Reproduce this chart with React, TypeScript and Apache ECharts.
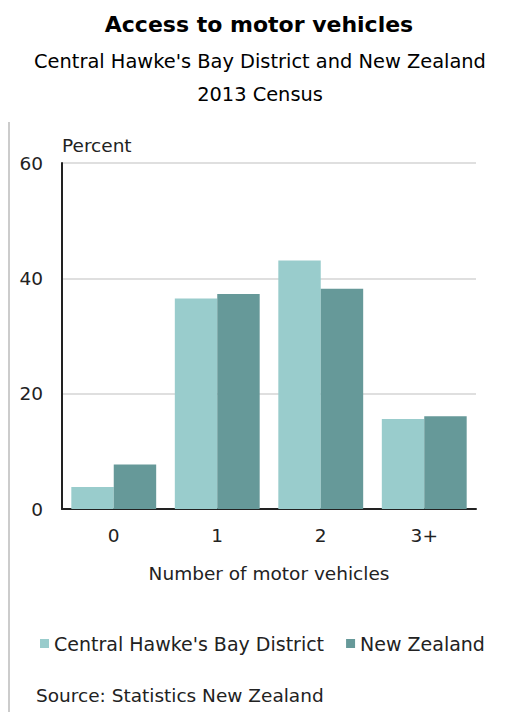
import React, { useEffect, useRef } from "react";
import * as echarts from "echarts";

const categories = ["0", "1", "2", "3+"];
const chbValues = [3.8, 36.5, 43.1, 15.6];
const nzValues = [7.7, 37.3, 38.2, 16.1];
const seriesNames = ["Central Hawke's Bay District", "New Zealand"];
const yTicks = { min: 0, max: 60, interval: 20 };

const FONT = "DejaVu Sans";

export default function App() {
  const ref = useRef<HTMLDivElement>(null);
  useEffect(() => {
    if (!ref.current) return;
    const chart = echarts.init(ref.current, undefined, { renderer: "svg" });
    chart.setOption({
      animation: false,
      backgroundColor: "#ffffff",
      textStyle: { fontFamily: FONT },
      grid: { left: 62, right: 43, top: 163, bottom: 203 },
      legend: {
        left: 40,
        top: 634,
        padding: 0,
        itemWidth: 9,
        itemHeight: 9,
        itemGap: 22,
        icon: "rect",
        textStyle: { fontFamily: FONT, fontSize: 19, color: "#222" },
        data: seriesNames,
      },
      xAxis: {
        type: "category",
        data: categories,
        axisLine: { show: true, lineStyle: { color: "#222", width: 2 } },
        axisTick: { show: false },
        axisLabel: { margin: 17, fontFamily: FONT, fontSize: 18.5, color: "#222" },
        name: "Number of motor vehicles",
        nameLocation: "middle",
        nameGap: 55,
        nameTextStyle: { fontFamily: FONT, fontSize: 18.5, color: "#222" },
      },
      yAxis: {
        type: "value",
        min: yTicks.min,
        max: yTicks.max,
        interval: yTicks.interval,
        axisLine: { show: true, lineStyle: { color: "#222", width: 2 } },
        axisTick: { show: false },
        axisLabel: { margin: 19, fontFamily: FONT, fontSize: 18.5, color: "#222" },
        splitLine: { show: true, lineStyle: { color: "#d4d4d4", width: 1.5 } },
      },
      series: [
        {
          name: seriesNames[0],
          type: "bar",
          data: chbValues,
          itemStyle: { color: "#99cccc" },
          barGap: "0%",
          barCategoryGap: "18%",
        },
        {
          name: seriesNames[1],
          type: "bar",
          data: nzValues,
          itemStyle: { color: "#669999" },
          barGap: "0%",
          barCategoryGap: "18%",
        },
      ],
      graphic: [
        {
          type: "line",
          shape: { x1: 9, y1: 122, x2: 9, y2: 712 },
          style: { stroke: "#cccccc", lineWidth: 2 },
        },
        {
          type: "text",
          x: 259,
          y: 24,
          style: {
            text: "Access to motor vehicles",
            fontFamily: FONT,
            fontWeight: "bold",
            fontSize: 22,
            fill: "#000",
            textAlign: "center",
            textVerticalAlign: "middle",
          },
        },
        {
          type: "text",
          x: 260,
          y: 61,
          style: {
            text: "Central Hawke's Bay District and New Zealand",
            fontFamily: FONT,
            fontSize: 19.4,
            fill: "#000",
            textAlign: "center",
            textVerticalAlign: "middle",
          },
        },
        {
          type: "text",
          x: 260,
          y: 94,
          style: {
            text: "2013 Census",
            fontFamily: FONT,
            fontSize: 19.4,
            fill: "#000",
            textAlign: "center",
            textVerticalAlign: "middle",
          },
        },
        {
          type: "text",
          x: 62,
          y: 145,
          style: {
            text: "Percent",
            fontFamily: FONT,
            fontSize: 18.5,
            fill: "#222",
            textAlign: "left",
            textVerticalAlign: "middle",
          },
        },
        {
          type: "text",
          x: 36,
          y: 695,
          style: {
            text: "Source: Statistics New Zealand",
            fontFamily: FONT,
            fontSize: 18.5,
            fill: "#222",
            textAlign: "left",
            textVerticalAlign: "middle",
          },
        },
      ],
    });
    return () => chart.dispose();
  }, []);
  return (
    <div
      ref={ref}
      style={{ position: "fixed", left: 0, top: 0, width: 519, height: 712 }}
    />
  );
}
